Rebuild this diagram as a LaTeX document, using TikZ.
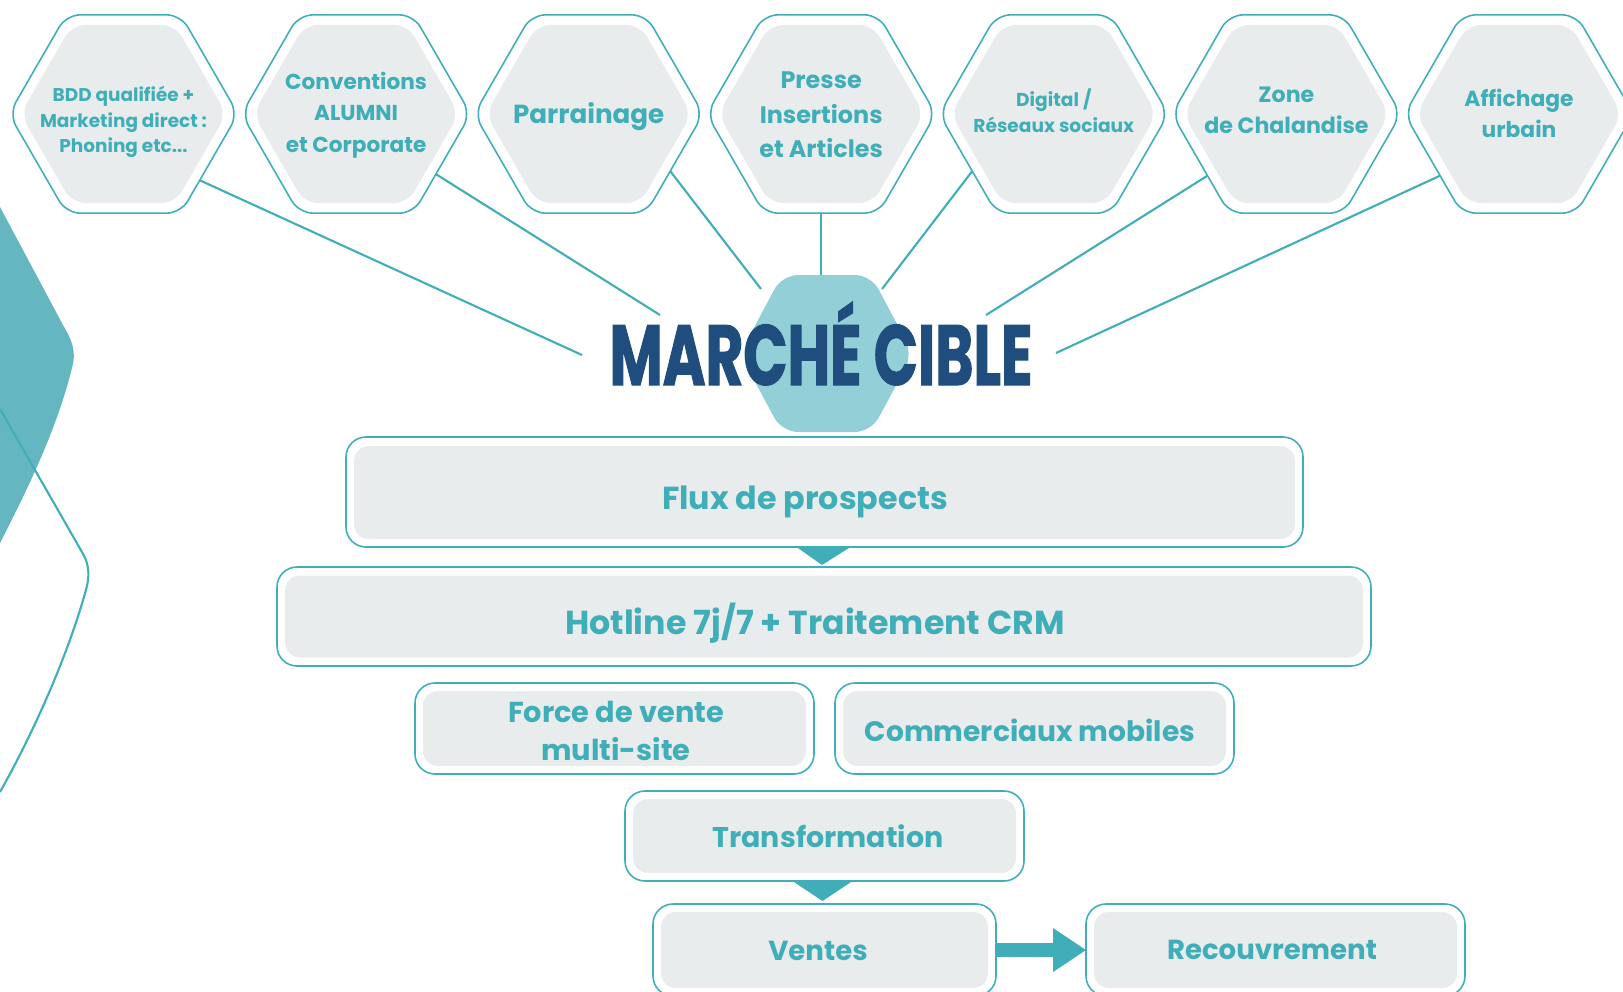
\documentclass[tikz,border=0pt]{standalone}
\usepackage{fontspec}
\setmainfont{Poppins}
\newfontfamily\titlefont[FakeStretch=0.68,FakeBold=1.2]{Poppins}
\usetikzlibrary{shapes.geometric,calc}
\newlength{\PX}\setlength{\PX}{0.02cm}
\definecolor{tealA}{RGB}{64,174,184}
\definecolor{greyF}{RGB}{232,236,236}
\definecolor{titleblue}{RGB}{31,78,126}
\definecolor{hexbg}{RGB}{147,207,215}
\definecolor{leftfill}{RGB}{100,183,192}
\newcommand{\fsz}[2]{\fontsize{#1}{#2}\selectfont}
\begin{document}
\begin{tikzpicture}[x=0.02cm,y=-0.02cm,
  hexout/.style={regular polygon, regular polygon sides=6, minimum size=229\PX, inner sep=0pt, outer sep=0pt, draw=tealA, line width=0.9pt, rounded corners=14\PX},
  hexin/.style={regular polygon, regular polygon sides=6, minimum size=206\PX, inner sep=0pt, fill=greyF, rounded corners=14\PX},
  hextext/.style={text=tealA, font=\bfseries, align=center, inner sep=0pt},
  boxout/.style={rectangle, draw=tealA, line width=0.9pt, fill=white, rounded corners=20\PX, inner sep=0pt, outer sep=0pt},
  boxin/.style={rectangle, fill=greyF, rounded corners=15\PX, inner sep=0pt},
  boxtext/.style={text=tealA, font=\bfseries, align=center, inner sep=0pt},
  link/.style={draw=tealA, line width=1.2pt},
  tri/.style={fill=tealA}
]
\useasboundingbox (0,0) rectangle (1623,991);

% left decoration
\fill[leftfill] (0,207) -- (63,325) .. controls (71,339) and (77,350) .. (72,368) .. controls (58,425) and (30,485) .. (0,543) -- cycle;
\draw[tealA, line width=1.2pt] (0,409) -- (82,552) .. controls (88,562) and (90,572) .. (87,586) .. controls (70,650) and (35,730) .. (0,792);

% hexagons
\foreach \i/\cx in {1/123.5,2/356.1,3/588.7,4/821.2,5/1053.8,6/1286.4,7/1519}{
  \node[hexout] (h\i) at (\cx,114) {};
  \node[hexin] (f\i) at (\cx,114) {};
}
\node[hextext, font=\bfseries\fsz{10.5}{14.7}] (t1) at (123.5,122) {BDD qualifiée +\\Marketing direct :\\Phoning etc...};
\node[hextext, font=\bfseries\fsz{12.3}{17.8}] (t2) at (356.1,115) {Conventions\\ALUMNI\\et Corporate};
\node[hextext, font=\bfseries\fsz{14.9}{19}] (t3) at (588.7,117) {Parrainage};
\node[hextext, font=\bfseries\fsz{13.6}{19.7}] (t4) at (821.2,115) {Presse\\Insertions\\et Articles};
\node[hextext, font=\bfseries\fsz{10.6}{14.7}] (t5) at (1053.8,111) {Digital /\\Réseaux sociaux};
\node[hextext, font=\bfseries\fsz{12.6}{17.6}] (t6) at (1286.4,110) {Zone\\de Chalandise};
\node[hextext, font=\bfseries\fsz{12.4}{17.6}] (t7) at (1519,113) {Affichage\\urbain};

% connector end points
\coordinate (e1) at (582,355);
\coordinate (e2) at (660,315);
\coordinate (e3) at (761,289);
\coordinate (e4) at (821.2,276);
\coordinate (e5) at (882,289);
\coordinate (e6) at (986,315);
\coordinate (e7) at (1056,353);
\draw[link] (h1.-41) -- (e1);
\draw[link] (h2.-37) -- (e2);
\draw[link] (h3.-35) -- (e3);
\draw[link] (h4.south) -- (e4);
\draw[link] (h5.-145) -- (e5);
\draw[link] (h6.-142) -- (e6);
\draw[link] (h7.-142) -- (e7);

% centre hexagon and title
\fill[hexbg, rounded corners=16\PX] (740,354) -- (782,275) -- (871,275) -- (913,354) -- (871,432) -- (782,432) -- cycle;
\node[anchor=base, text=titleblue, font=\titlefont\bfseries\fsz{48.6}{50}, inner sep=0pt] (title) at (821,385) {MARCHÉ CIBLE};

% boxes
\node[boxout, minimum width=957\PX, minimum height=110\PX] (flux) at (824.5,492) {};
\node[boxin, minimum width=941\PX, minimum height=93\PX] (fluxi) at (824.5,492.5) {};
\node[boxtext, font=\bfseries\fsz{18.1}{22}] (tflux) at (805,502) {Flux de prospects};

\node[boxout, minimum width=1094\PX, minimum height=99\PX] (hot) at (824,616.5) {};
\node[boxin, minimum width=1078\PX, minimum height=82\PX] (hoti) at (824,616.5) {};
\node[boxtext, font=\bfseries\fsz{18.9}{22}] (thot) at (815,623) {Hotline 7j/7 + Traitement CRM};

\node[boxout, minimum width=399\PX, minimum height=91\PX] (force) at (614.5,728.5) {};
\node[boxin, minimum width=383\PX, minimum height=75\PX] (forcei) at (614.5,728.5) {};
\node[boxtext, font=\bfseries\fsz{16.4}{21.3}] (tforce) at (616,731) {Force de vente\\multi-site};

\node[boxout, minimum width=399\PX, minimum height=91\PX] (comm) at (1034.5,728.5) {};
\node[boxin, minimum width=383\PX, minimum height=75\PX] (commi) at (1034.5,728.5) {};
\node[boxtext, font=\bfseries\fsz{16.0}{21}] (tcomm) at (1030,730) {Commerciaux mobiles};

\node[boxout, minimum width=399\PX, minimum height=90\PX] (trans) at (824.5,836) {};
\node[boxin, minimum width=383\PX, minimum height=74\PX] (transi) at (824.5,836) {};
\node[boxtext, font=\bfseries\fsz{16.2}{21}] (ttrans) at (828,836) {Transformation};

\node[boxout, minimum width=343\PX, minimum height=92\PX] (ventes) at (824.5,950) {};
\node[boxin, minimum width=327\PX, minimum height=76\PX] (ventesi) at (824.5,950) {};
\node[boxtext, font=\bfseries\fsz{15.7}{21}] (tventes) at (818,951) {Ventes};

\node[boxout, minimum width=379\PX, minimum height=92\PX] (recouv) at (1275.5,950) {};
\node[boxin, minimum width=363\PX, minimum height=76\PX] (recouvi) at (1275.5,950) {};
\node[boxtext, font=\bfseries\fsz{15.7}{21}] (trecouv) at (1272,950) {Recouvrement};

% triangles
\fill[tri] ($(flux.south)+(-28,0)$) -- ($(flux.south)+(26,0)$) -- ($(hot.north)+(-2,-2)$) -- cycle;
\fill[tri] ($(trans.south)+(-32,0)$) -- ($(trans.south)+(28,0)$) -- ($(ventes.north)+(-2,-3)$) -- cycle;

% arrow
\draw[tealA, line width=14\PX] (ventes.east) -- ($(recouv.west)+(-32,0)$);
\fill[tealA] ($(recouv.west)+(-33,-22)$) -- (recouv.west) -- ($(recouv.west)+(-33,22)$) -- cycle;
\end{tikzpicture}
\end{document}
